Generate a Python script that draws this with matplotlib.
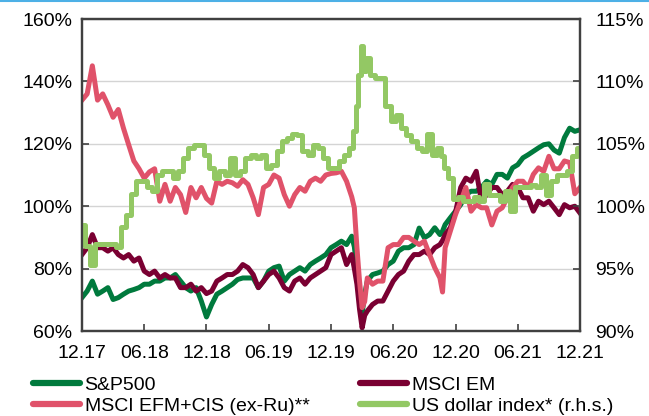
import matplotlib
matplotlib.use("Agg")
import matplotlib.pyplot as plt
from matplotlib.lines import Line2D
from matplotlib.ticker import FuncFormatter

plt.rcParams["font.family"] = ["Liberation Sans", "DejaVu Sans"]

# months since Dec 2017
months = [
    0, 0.5, 1, 1.5, 2, 2.5, 3, 3.5, 4, 4.5, 5, 5.5,
    6, 6.5, 7, 7.5, 8, 8.5, 9, 9.5, 10, 10.5, 11, 11.5,
    12, 12.5, 13, 13.5, 14, 14.5, 15, 15.5, 16, 16.5, 17, 17.5,
    18, 18.5, 19, 19.5, 20, 20.5, 21, 21.5, 22, 22.5, 23, 23.5,
    24, 24.5, 25, 25.5, 26, 26.25, 26.5, 26.75, 27, 27.25, 27.5, 28,
    28.5, 29, 29.5, 30, 30.5, 31, 31.5, 32, 32.5, 33, 33.5, 34,
    34.5, 34.75, 35, 35.5,
    36, 36.5, 37, 37.5, 38, 38.5, 39, 39.5, 40, 40.5, 41, 41.5,
    42, 42.5, 43, 43.5, 44, 44.5, 45, 45.5, 46, 46.5, 47, 47.5, 48,
]

sp500 = [
    70.7, 72.8, 76.0, 71.8, 72.8, 73.9, 70.1, 70.7, 71.8, 72.8, 73.3, 73.9,
    75.0, 75.0, 76.0, 76.0, 77.0, 77.0, 78.1, 76.0, 73.9, 72.8, 73.9, 69.6,
    64.5, 68.5, 71.8, 72.8, 73.9, 75.0, 76.5, 77.0, 77.0, 77.0, 73.9, 76.0,
    79.2, 80.3, 80.8, 76.0, 78.1, 79.2, 80.3, 79.2, 81.3, 82.4, 83.4, 84.5,
    86.7, 87.7, 88.8, 87.7, 90.4, 87.0, 80.0, 70.0, 65.5, 72.0, 76.0, 78.1,
    78.6, 79.2, 81.3, 82.4, 85.6, 86.7, 86.7, 87.7, 93.0, 89.9, 90.9, 93.1,
    90.9, 92.0, 94.1, 96.3,
    98.4, 100.5, 103.7, 104.8, 104.8, 106.0, 108.0, 107.0, 110.2, 110.2, 109.0, 112.3,
    113.3, 115.5, 116.5, 117.6, 118.7, 119.7, 120.0, 118.0, 117.0, 122.0, 125.0, 124.0, 124.5,
]

msci_em = [
    84.5, 86.7, 90.9, 86.7, 86.7, 85.6, 86.7, 84.5, 83.4, 84.5, 82.4, 83.4,
    79.2, 78.1, 79.2, 77.0, 78.1, 77.0, 77.0, 73.9, 73.9, 75.0, 72.8, 73.9,
    72.0, 72.8, 76.0, 77.0, 78.1, 78.1, 79.2, 81.3, 80.3, 78.1, 73.9, 76.0,
    78.1, 79.2, 77.0, 73.9, 72.8, 76.0, 77.0, 75.0, 77.0, 78.1, 79.2, 80.3,
    84.5, 85.6, 86.7, 81.3, 84.5, 80.0, 75.0, 67.0, 61.0, 65.0, 66.4, 68.5,
    69.6, 69.6, 72.8, 76.0, 78.1, 79.2, 82.4, 84.5, 84.5, 85.6, 84.5, 86.7,
    87.7, 89.0, 90.9, 93.1,
    98.0, 106.0, 109.0, 108.0, 111.2, 101.6, 103.7, 106.0, 106.0, 103.7, 104.8, 107.0,
    106.0, 102.7, 102.7, 98.4, 101.6, 100.5, 101.6, 99.5, 97.3, 100.5, 99.5, 100.0, 97.8,
]

msci_efm_cis = [
    134.0, 136.0, 145.0, 134.0, 136.0, 132.5, 128.5, 131.0, 125.0, 119.7, 114.5, 112.0,
    109.0, 111.0, 112.0, 101.6, 107.0, 101.6, 106.0, 103.7, 98.0, 106.0, 102.7, 106.0,
    102.5, 101.0, 108.0, 107.0, 108.0, 107.5, 106.4, 108.5, 107.0, 102.7, 97.3, 106.0,
    107.0, 110.0, 109.0, 103.7, 100.0, 103.7, 106.0, 104.8, 108.0, 109.0, 108.0, 110.0,
    110.5, 110.7, 111.2, 108.0, 103.0, 99.5, 86.7, 76.0, 67.5, 69.5, 77.0, 75.0,
    76.0, 76.0, 86.7, 87.7, 87.7, 90.0, 90.0, 88.8, 87.7, 88.8, 84.5, 80.3,
    77.0, 72.5, 86.7, 92.0,
    97.3, 101.6, 106.0, 98.4, 100.5, 99.5, 99.5, 94.0, 98.4, 99.5, 102.7, 106.0,
    108.0, 108.0, 106.0, 110.2, 112.3, 111.2, 116.0, 112.0, 112.0, 114.5, 114.0, 104.0, 106.0,
]

usd_index = [
    98.5, 96.8, 95.3, 97.0, 97.0, 97.0, 97.0, 96.7, 98.3, 99.3, 101.0, 102.0,
    102.0, 101.5, 101.2, 102.5, 102.8, 102.8, 102.3, 102.8, 103.9, 104.7, 104.9, 104.9,
    104.1, 103.1, 102.3, 102.8, 102.5, 103.9, 102.5, 102.8, 103.9, 104.1, 103.9, 104.1,
    103.1, 103.3, 104.4, 105.2, 105.5, 105.8, 105.7, 104.4, 104.1, 104.9, 104.7, 103.9,
    103.1, 103.1, 103.6, 104.1, 104.7, 106.0, 108.0, 110.5, 112.8, 110.8, 111.9, 110.5,
    110.3, 110.3, 108.0, 106.8, 107.3, 106.3, 105.7, 105.2, 104.7, 104.4, 105.8, 104.1,
    104.7, 104.0, 103.1, 102.3,
    100.6, 100.7, 100.4, 100.4, 100.7, 100.4, 101.8, 100.9, 100.9, 100.4, 101.2, 99.6,
    101.5, 101.5, 101.5, 101.7, 101.5, 102.5, 100.9, 102.0, 102.5, 102.5, 102.8, 104.0, 104.7,
]

tick_months = [0, 6, 12, 18, 24, 30, 36, 42, 48]
tick_labels = ["12.17", "06.18", "12.18", "06.19", "12.19", "06.20", "12.20", "06.21", "12.21"]

C_SP = "#007A3D"
C_EM = "#7A0032"
C_EFM = "#E0526A"
C_USD = "#93C864"
SPINE = "#404040"

fig = plt.figure(figsize=(6.49, 4.16), dpi=100)
ax = fig.add_axes([0.1263, 0.2043, 0.7674, 0.75])
ax2 = ax.twinx()

lw = 3.6
ax.plot(months, sp500, color=C_SP, lw=lw, solid_joinstyle="round", label="S&P500")
ax.plot(months, msci_em, color=C_EM, lw=lw, solid_joinstyle="round", label="MSCI EM")
ax.plot(months, msci_efm_cis, color=C_EFM, lw=lw, solid_joinstyle="round",
        label="MSCI EFM+CIS (ex-Ru)**")
ax2.plot(months, usd_index, color=C_USD, lw=lw, drawstyle="steps-mid",
         label="US dollar index* (r.h.s.)")

ax.set_xlim(0, 48)
ax.set_ylim(60, 160)
ax2.set_ylim(90, 115)
ax.set_yticks([60, 80, 100, 120, 140, 160])
ax2.set_yticks([90, 95, 100, 105, 110, 115])
pct = FuncFormatter(lambda v, _: f"{v:.0f}%")
ax.yaxis.set_major_formatter(pct)
ax2.yaxis.set_major_formatter(pct)
ax.set_xticks(tick_months)
ax.set_xticklabels(tick_labels)

ax.yaxis.grid(True, color="#D4D4D4", lw=1.0)
ax.set_axisbelow(True)

for a in (ax, ax2):
    for s in a.spines.values():
        s.set_color(SPINE)
        s.set_linewidth(1.6)
    a.tick_params(direction="in", length=5, width=1.2, color=SPINE,
                  labelsize=14, labelcolor="black")
ax.tick_params(axis="x", pad=10)
ax.tick_params(axis="y", pad=7)
ax2.tick_params(axis="y", pad=11)

handles = [
    Line2D([], [], color=C_SP, lw=4.5, solid_capstyle="round"),
    Line2D([], [], color=C_EFM, lw=4.5, solid_capstyle="round"),
    Line2D([], [], color=C_EM, lw=4.5, solid_capstyle="round"),
    Line2D([], [], color=C_USD, lw=4.5, solid_capstyle="round"),
]
labels = ["S&P500", "MSCI EFM+CIS (ex-Ru)**", "MSCI EM", "US dollar index* (r.h.s.)"]
fig.legend(handles, labels, ncol=2, loc="lower left", bbox_to_anchor=(0.039, -0.017),
           frameon=False, fontsize=14, handlelength=2.4, handletextpad=0.25,
           columnspacing=2.6, labelspacing=0.2, borderaxespad=0)

fig.add_artist(Line2D([0, 1], [0.998, 0.998], color="#4DB0E6", lw=1.5,
                      transform=fig.transFigure))

fig.savefig("out.png", dpi=100)
